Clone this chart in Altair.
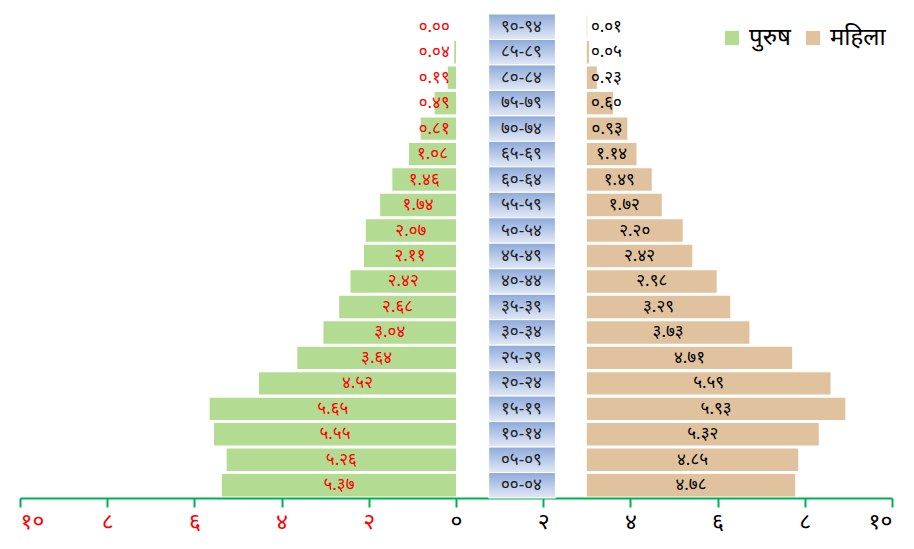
import altair as alt
import pandas as pd

ages = ["९०-९४", "८५-८९", "८०-८४", "७५-७९", "७०-७४", "६५-६९", "६०-६४",
        "५५-५९", "५०-५४", "४५-४९", "४०-४४", "३५-३९", "३०-३४", "२५-२९",
        "२०-२४", "१५-१९", "१०-१४", "०५-०९", "००-०४"]
male = [0.00, 0.04, 0.19, 0.49, 0.81, 1.08, 1.46, 1.74, 2.07, 2.11, 2.42,
        2.68, 3.04, 3.64, 4.52, 5.65, 5.55, 5.26, 5.37]
female = [0.01, 0.05, 0.23, 0.60, 0.93, 1.14, 1.49, 1.72, 2.20, 2.42, 2.98,
          3.29, 3.73, 4.71, 5.59, 5.93, 5.32, 4.85, 4.78]
sexes = ["पुरुष", "महिला"]
tick_values = [-10, -8, -6, -4, -2, 0, 2, 4, 6, 8, 10]
tick_labels = ["१०", "८", "६", "४", "२", "०", "२", "४", "६", "८", "१०"]

DEV = str.maketrans("0123456789", "०१२३४५६७८९")
FONT = "Noto Sans"
GAP = 3  # offset of the female side (axis units)

rows = []
for a, m, f in zip(ages, male, female):
    rows.append({"age": a, "sex": sexes[0], "value": m,
                 "label": f"{m:.2f}".translate(DEV)})
    rows.append({"age": a, "sex": sexes[1], "value": f,
                 "label": f"{f:.2f}".translate(DEV)})
df = pd.DataFrame(rows)
age_df = pd.DataFrame({"age": ages})

xscale = alt.Scale(domain=[-10, 10], nice=False, zero=False)
yenc = alt.Y("age:N", sort=ages, axis=None,
             scale=alt.Scale(paddingInner=0, paddingOuter=0))

base = alt.Chart(df).transform_calculate(
    xs=f"datum.sex == '{sexes[0]}' ? 0 : {GAP}",
    xe=f"datum.sex == '{sexes[0]}' ? -datum.value : {GAP} + datum.value",
)

bars = base.mark_bar(height={"band": 0.88}).encode(
    x=alt.X("xs:Q", scale=xscale,
            axis=alt.Axis(values=tick_values,
                          labelExpr="[" + ",".join(f"'{t}'" for t in tick_labels) + "][(datum.value + 10) / 2]",
                          labelColor={"condition": {"test": "datum.value < 0", "value": "#ff0000"}, "value": "#000000"},
                          labelFont=FONT, labelFontSize=23, labelPadding=3,
                          domainColor="#00b050", domainWidth=2,
                          tickColor="#00b050", tickWidth=2, tickSize=9,
                          grid=False, title=None)),
    x2="xe:Q",
    y=yenc,
    color=alt.Color("sex:N", scale=alt.Scale(domain=sexes, range=["#b3dc92", "#e0c29e"]),
                    legend=alt.Legend(title=None, orient="none", legendX=700, legendY=12,
                                      direction="horizontal", symbolType="square",
                                      symbolSize=200, symbolStrokeWidth=0,
                                      labelFont=FONT, labelFontSize=24,
                                      columnPadding=10, labelOffset=5)),
)

male_text = base.transform_filter(f"datum.sex == '{sexes[0]}'").transform_calculate(
    tx="min(-datum.value / 2, -0.5)"
).mark_text(color="#ff0000", font=FONT, fontSize=17).encode(
    x=alt.X("tx:Q", scale=xscale), y=yenc, text="label:N")

female_text = base.transform_filter(f"datum.sex == '{sexes[1]}'").transform_calculate(
    tx=f"{GAP} + max(datum.value / 2, 0.45)"
).mark_text(color="#000000", font=FONT, fontSize=17).encode(
    x=alt.X("tx:Q", scale=xscale), y=yenc, text="label:N")

grad = alt.LinearGradient(
    gradient="linear",
    stops=[alt.GradientStop(color="#8eaadb", offset=0),
           alt.GradientStop(color="#e2e9f6", offset=1)],
    x1=0, x2=0, y1=0, y2=1)

boxes = alt.Chart(age_df).mark_bar(color=grad, height={"band": 1.0},
                                   stroke="#ffffff", strokeWidth=1).encode(
    x=alt.datum(0.75, scale=xscale), x2=alt.datum(2.28), y=yenc)

box_text = alt.Chart(age_df).mark_text(color="#222222", font=FONT, fontSize=17).encode(
    x=alt.datum(1.5, scale=xscale), y=yenc, text="age:N")

chart = alt.layer(bars, boxes, male_text, female_text, box_text).properties(
    width=872, height=484,
    autosize=alt.AutoSizeParams(type="none"),
    padding={"left": 12, "top": 6, "right": 14, "bottom": 43},
).configure_view(stroke=None)

chart.save("out.html", embed_options={"renderer": "svg", "actions": False})
